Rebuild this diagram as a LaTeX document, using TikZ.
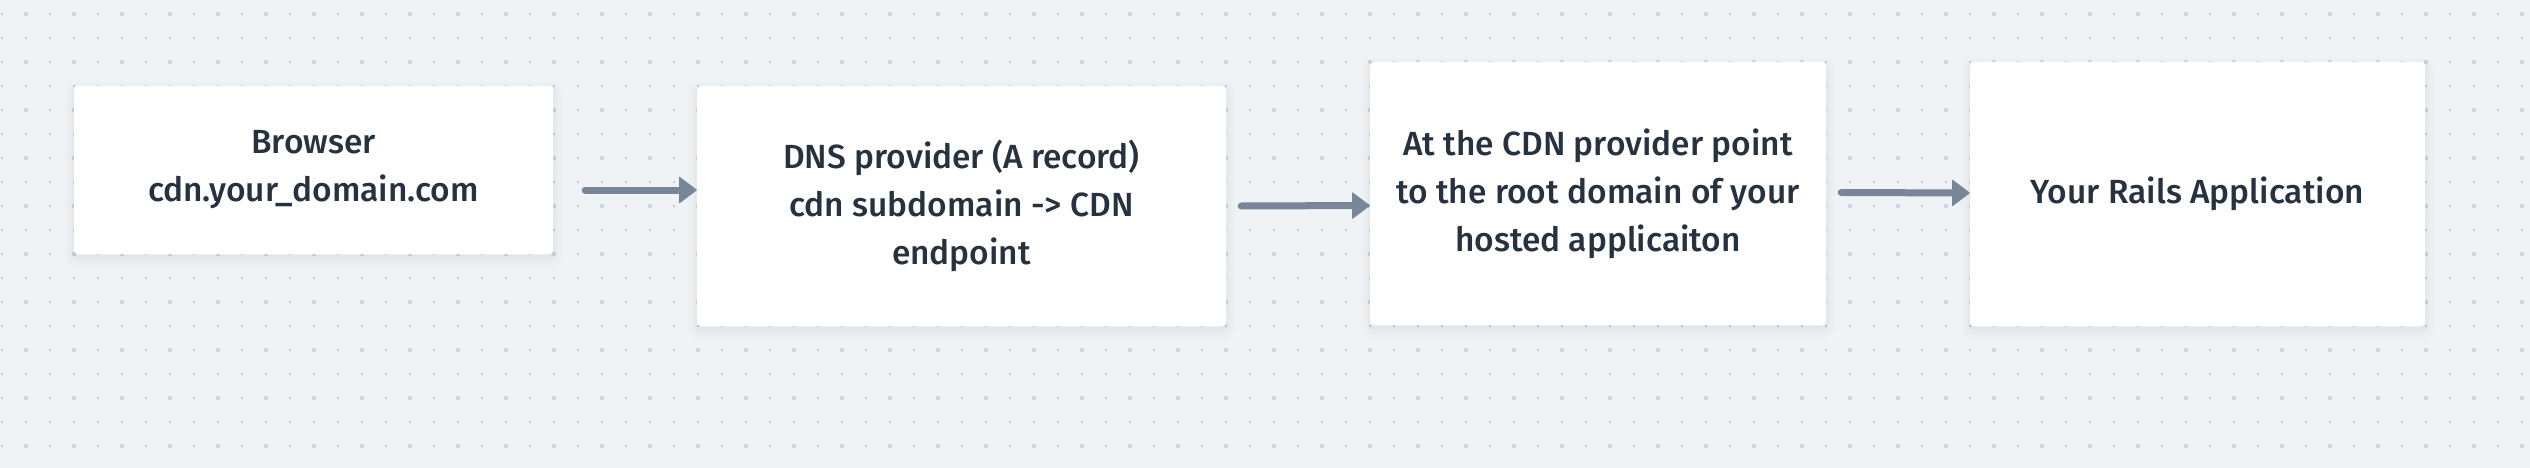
\documentclass[tikz,border=0pt]{standalone}
\usepackage{fontspec}
\setmainfont{Fira Sans Medium}
\usetikzlibrary{arrows.meta,calc}
\definecolor{bgc}{HTML}{EFF3F6}
\definecolor{dotc}{HTML}{C3CCD7}
\definecolor{bigdotc}{HTML}{CBD4DF}
\definecolor{txtc}{HTML}{26323F}
\definecolor{arrc}{HTML}{778797}
\begin{document}
\begin{tikzpicture}[x=1pt,y=-1pt,
  box/.style={fill=white, rounded corners=4pt, inner sep=0pt, align=center,
    text=txtc, font=\fontsize{33.5}{48}\selectfont,
    preaction={draw=black, opacity=0.012, line width=18pt, transform canvas={yshift=-5pt}},
    preaction={draw=black, opacity=0.015, line width=10pt, transform canvas={yshift=-4pt}},
    preaction={draw=black, opacity=0.018, line width=4pt, transform canvas={yshift=-3pt}}},
  arr/.style={draw=arrc, line width=7pt, line cap=round,
    -{Triangle[length=18pt,width=27pt,round,line width=1pt]}}
]
\fill[bgc] (0,0) rectangle (2530,468);
\useasboundingbox (0,0) rectangle (2530,468);
% dot grid
\foreach \i in {0,...,105} {
  \foreach \j in {0,...,19} {
    \fill[dotc] ({2+24*\i-1},{14+24*\j-1}) rectangle ++(2,2);
  }
}
\foreach \i in {0,...,52} {
  \foreach \j in {0,...,9} {
    \fill[bigdotc] ({26+48*\i},{14+48*\j}) circle (2.2);
  }
}
% boxes
\node[box, minimum width=479pt, minimum height=168pt] (b1) at (313.5,170)
  {Browser\\cdn.your\_domain.com};
\node[box, minimum width=529pt, minimum height=240pt] (b2) at (961.5,206)
  {DNS provider (A record)\\cdn subdomain -> CDN\\endpoint};
\node[box, minimum width=456pt, minimum height=263pt] (b3) at (1598,193.5)
  {At the CDN provider point\\to the root domain of your\\hosted applicaiton};
\node[box, minimum width=455pt, minimum height=264pt] (b4) at (2197.5,194)
  {Your Rails Application};
% arrows
\draw[arr] ([xshift=32pt,yshift=-20pt]b1.east) -- ([yshift=16pt]b2.west);
\draw[arr] ([xshift=15pt]b2.east) -- ([yshift=-12pt]b3.west);
\draw[arr] ([xshift=15pt,yshift=1pt]b3.east) -- ([yshift=1pt]b4.west);
\end{tikzpicture}
\end{document}
